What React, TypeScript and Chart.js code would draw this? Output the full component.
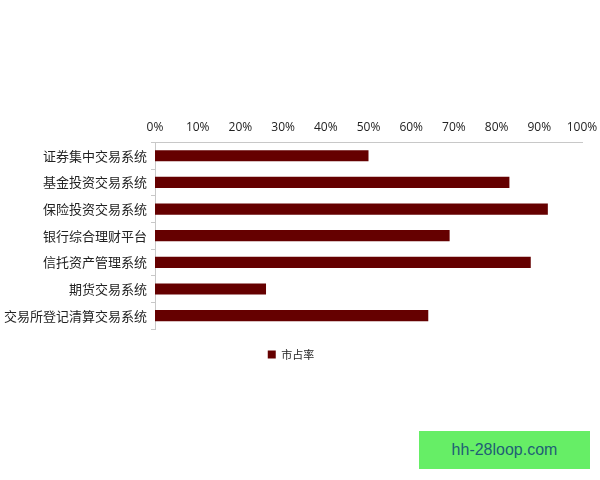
import React, { useEffect, useRef } from "react";
import { Chart, registerables } from "chart.js";

Chart.register(...registerables);

const categories = [
  "证券集中交易系统",
  "基金投资交易系统",
  "保险投资交易系统",
  "银行综合理财平台",
  "信托资产管理系统",
  "期货交易系统",
  "交易所登记清算交易系统",
];
const shareValues = [50, 83, 92, 69, 88, 26, 64];
const seriesName = "市占率";

export default function App() {
  const ref = useRef<HTMLCanvasElement | null>(null);
  useEffect(() => {
    document.body.style.margin = "0";
    const ctx = ref.current!;
    const chart = new Chart(ctx, {
      type: "bar",
      data: {
        labels: categories,
        datasets: [
          {
            label: seriesName,
            data: shareValues,
            backgroundColor: "#650000",
            borderWidth: 0,
            barPercentage: 0.42,
            categoryPercentage: 1,
          },
        ],
      },
      options: {
        indexAxis: "y",
        animation: false,
        responsive: false,
        maintainAspectRatio: false,
        layout: { padding: { top: 120, bottom: 110, left: 0, right: 18 } },
        plugins: {
          legend: {
            position: "bottom",
            labels: {
              boxWidth: 8,
              boxHeight: 8,
              color: "#222",
              font: { family: "'Noto Sans CJK SC'", size: 11 },
              padding: 20,
            },
          },
          tooltip: { enabled: false },
        },
        scales: {
          x: {
            position: "top",
            min: 0,
            max: 100,
            ticks: {
              stepSize: 10,
              color: "#222",
              font: { family: "'Open Sans'", size: 12 },
              callback: (v: any) => v + "%",
              padding: 0,
            },
            grid: { display: false },
            border: { display: true, color: "#c8c8c8", width: 1 },
          },
          y: {
            ticks: {
              color: "#222",
              font: { family: "'Noto Sans CJK SC'", size: 13 },
              padding: 4,
            },
            grid: {
              drawOnChartArea: false,
              drawTicks: true,
              tickLength: 4,
              color: "#c8c8c8",
            },
            border: { display: true, color: "#c8c8c8", width: 1 },
          },
        },
      },
    });
    return () => chart.destroy();
  }, []);
  return (
    <div style={{ position: "relative", width: 600, height: 480, background: "#fff" }}>
      <canvas ref={ref} width={600} height={480} style={{ width: 600, height: 480 }} />
      <div
        style={{
          position: "absolute",
          left: 419,
          top: 431,
          width: 171,
          height: 38,
          background: "#66ee66",
          color: "#1f5f75",
          fontFamily: "'Liberation Sans', sans-serif",
          fontSize: 16,
          display: "flex",
          alignItems: "center",
          justifyContent: "center",
        }}
      >
        hh-28loop.com
      </div>
    </div>
  );
}
